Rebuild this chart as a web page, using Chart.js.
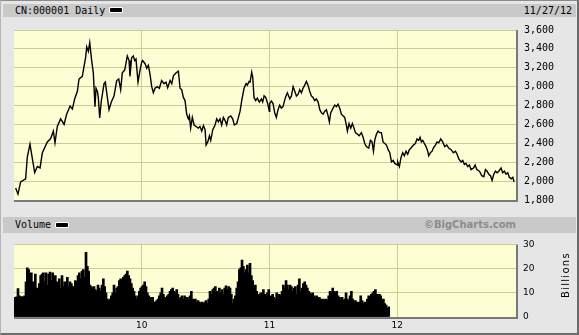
<!DOCTYPE html>
<html>
<head>
<meta charset="utf-8">
<script src="https://cdn.jsdelivr.net/npm/chart.js@4.4.0/dist/chart.umd.min.js"></script>
<style>
  html, body { margin: 0; padding: 0; background: #e6e6e6; }
  #marco { position: relative; width: 579px; height: 335px; background: #e6e6e6; overflow: hidden;
           font-family: "DejaVu Sans Mono", monospace; font-size: 10px; color: #000; }
  .barra { position: absolute; left: 3px; width: 573px; background: #c9c9c9; }
  .texto { position: absolute; white-space: nowrap; }
  .leyenda { position: absolute; width: 12px; height: 4px; background: #000; border-radius: 1px; box-shadow: 0 0 0 1px #fff; }
  canvas { position: absolute; left: 0; }
  #borde { position: absolute; left: 0; top: 0; right: 0; bottom: 0; pointer-events: none;
           border-top: 1px solid #8a8a8a; border-left: 1px solid #b5b5b5;
           border-right: 2px solid #6d6d6d; border-bottom: 2px solid #6d6d6d; }
</style>
</head>
<body>
<div id="marco">
  <div class="barra" style="top:4px;height:13px;"></div>
  <div class="texto" style="left:15px;top:4px;line-height:13px;">CN:000001 Daily</div>
  <div class="leyenda" style="left:110px;top:8px;"></div>
  <div class="texto" style="right:7px;top:4px;line-height:13px;">11/27/12</div>

  <div class="barra" style="top:217px;height:16px;"></div>
  <div class="texto" style="left:15px;top:217px;line-height:16px;">Volume</div>
  <div class="leyenda" style="left:56px;top:223px;"></div>
  <div class="texto" style="right:63px;top:217px;line-height:16px;font-family:'DejaVu Sans',sans-serif;font-weight:bold;color:#8c8c8c;">©BigCharts.com</div>

  <canvas id="graficoPrecio" width="579" height="198" style="top:16px;"></canvas>
  <canvas id="graficoVolumen" width="579" height="103" style="top:232px;"></canvas>

  <div class="texto" style="left:536px;top:269px;width:60px;height:12px;line-height:12px;text-align:center;
       font-family:'DejaVu Sans',sans-serif;font-size:10px;letter-spacing:1.3px;transform:rotate(-90deg);">Billions</div>
  <div id="borde"></div>
</div>

<script>
// Daily close of the index.
// Positions are given as the fraction of the year already gone.
const frac2009 = [0.013, 0.031, 0.052, 0.091, 0.104, 0.125, 0.144, 0.162, 0.183, 0.204,
  0.222, 0.261, 0.287, 0.308, 0.321, 0.339, 0.365, 0.392, 0.412, 0.439,
  0.457, 0.475, 0.496, 0.509, 0.535, 0.548, 0.561, 0.569, 0.582, 0.593,
  0.608, 0.621, 0.634, 0.642, 0.653, 0.660, 0.671, 0.684, 0.705, 0.715,
  0.726, 0.744, 0.762, 0.783, 0.804, 0.820, 0.835, 0.848, 0.867, 0.887,
  0.901, 0.908, 0.921, 0.934, 0.945, 0.955, 0.971, 0.987];
const close2009 = [1927, 1862, 1992, 2024, 2252, 2392, 2236, 2090, 2154, 2140,
  2300, 2415, 2450, 2529, 2405, 2578, 2659, 2600, 2707, 2795,
  2765, 2870, 2951, 3081, 3110, 3212, 3310, 3422, 3373, 3465,
  3276, 3146, 2788, 2983, 2950, 2886, 2668, 2853, 3032, 3048,
  2934, 2756, 2837, 2902, 3065, 3081, 2968, 3146, 3178, 3325,
  3276, 3107, 3309, 3325, 3276, 3292, 3049, 3178];

const frac2010 = [0.000, 0.007, 0.026, 0.039, 0.052, 0.065, 0.078, 0.091, 0.104, 0.122,
  0.138, 0.156, 0.175, 0.190, 0.203, 0.222, 0.235, 0.248, 0.269, 0.287,
  0.300, 0.313, 0.326, 0.339, 0.352, 0.365, 0.373, 0.383, 0.396, 0.410,
  0.425, 0.443, 0.456, 0.470, 0.483, 0.496, 0.504, 0.517, 0.530, 0.540,
  0.556, 0.574, 0.587, 0.600, 0.613, 0.626, 0.639, 0.652, 0.665, 0.678,
  0.697, 0.712, 0.725, 0.744, 0.757, 0.770, 0.783, 0.801, 0.817, 0.827,
  0.840, 0.848, 0.861, 0.869, 0.879, 0.892, 0.905, 0.921, 0.937, 0.947,
  0.958, 0.971, 0.986, 0.999];
const close2010 = [3260, 3276, 3243, 3195, 3227, 3130, 3000, 2935, 2983, 3000,
  2983, 3065, 3032, 3048, 2990, 3065, 3032, 3114, 3146, 3163,
  2983, 2967, 2886, 2853, 2707, 2659, 2691, 2561, 2675, 2594,
  2578, 2561, 2578, 2529, 2588, 2545, 2382, 2415, 2480, 2431,
  2545, 2594, 2659, 2627, 2659, 2594, 2675, 2643, 2594, 2675,
  2691, 2659, 2594, 2610, 2675, 2740, 2854, 2983, 3032, 3016,
  3055, 3048, 3153, 3098, 2886, 2853, 2879, 2837, 2870, 2837,
  2902, 2886, 2821, 2740];

const frac2011 = [0.002, 0.015, 0.028, 0.041, 0.054, 0.067, 0.080, 0.093, 0.106, 0.125,
  0.140, 0.159, 0.172, 0.185, 0.198, 0.211, 0.224, 0.237, 0.250, 0.263,
  0.276, 0.289, 0.302, 0.315, 0.328, 0.341, 0.354, 0.367, 0.381, 0.394,
  0.407, 0.420, 0.433, 0.446, 0.459, 0.469, 0.480, 0.498, 0.511, 0.524,
  0.537, 0.550, 0.563, 0.576, 0.589, 0.602, 0.610, 0.623, 0.636, 0.649,
  0.662, 0.673, 0.689, 0.702, 0.720, 0.733, 0.746, 0.759, 0.777, 0.790,
  0.803, 0.814, 0.824, 0.837, 0.850, 0.863, 0.876, 0.889, 0.903, 0.916,
  0.929, 0.942, 0.955, 0.968, 0.981];
const close2011 = [2821, 2847, 2821, 2724, 2675, 2756, 2805, 2773, 2789, 2886,
  2935, 2870, 2902, 3000, 2951, 2902, 2918, 2967, 2935, 2983,
  3016, 3055, 3016, 2951, 2902, 2886, 2853, 2870, 2837, 2756,
  2724, 2708, 2740, 2756, 2691, 2626, 2724, 2773, 2805, 2789,
  2815, 2773, 2708, 2691, 2675, 2594, 2529, 2610, 2561, 2610,
  2561, 2513, 2496, 2480, 2513, 2464, 2398, 2366, 2350, 2431,
  2415, 2317, 2431, 2496, 2529, 2513, 2513, 2415, 2398, 2382,
  2333, 2301, 2203, 2219, 2187];

const frac2012 = [0.002, 0.004, 0.017, 0.030, 0.043, 0.056, 0.069, 0.082, 0.095, 0.108,
  0.127, 0.142, 0.155, 0.168, 0.179, 0.189, 0.200, 0.213, 0.226, 0.239,
  0.247, 0.260, 0.273, 0.283, 0.299, 0.312, 0.325, 0.341, 0.356, 0.372,
  0.388, 0.403, 0.422, 0.440, 0.456, 0.469, 0.482, 0.500, 0.513, 0.526,
  0.539, 0.552, 0.565, 0.578, 0.597, 0.610, 0.623, 0.644, 0.662, 0.678,
  0.691, 0.704, 0.717, 0.730, 0.743, 0.756, 0.769, 0.782, 0.795, 0.813,
  0.826, 0.839, 0.852, 0.865, 0.878, 0.892, 0.905, 0.915];
const close2012 = [2170, 2203, 2154, 2252, 2301, 2268, 2317, 2284, 2333, 2350,
  2382, 2398, 2447, 2431, 2464, 2415, 2431, 2398, 2366, 2317,
  2268, 2301, 2317, 2350, 2382, 2415, 2405, 2447, 2415, 2366,
  2382, 2350, 2333, 2301, 2317, 2284, 2236, 2203, 2219, 2177,
  2187, 2154, 2170, 2122, 2138, 2170, 2122, 2105, 2057, 2047,
  2122, 2105, 2073, 2057, 2008, 2073, 2105, 2089, 2105, 2138,
  2089, 2105, 2073, 2089, 2040, 2024, 2040, 1992];

// Volume in billions, one sample every ~3.8 days from the start of 2009
// (the picture has no volume after late 2011)
const volumeStart = 2009.0;
const volumeStep = 0.01044;
const volumeBillions = [7.4, 8.1, 8.3, 11.7, 8.7, 8.3, 8.3, 8.3, 8.7, 14.5,
  20.3, 19.6, 16.4, 18.3, 14.5, 11.9, 17.7, 11.9, 8.1, 13.8,
  17.1, 17.7, 18.3, 14.5, 18.3, 13.2, 17.7, 18.6, 15.1, 18.3,
  11.9, 17.1, 14.5, 13.2, 15.8, 11.9, 17.1, 12.6, 14.5, 13.2,
  16.4, 12.6, 14.5, 13.8, 12.6, 12.6, 15.1, 14.5, 17.1, 18.3,
  15.8, 19.0, 19.6, 16.4, 26.7, 20.9, 19.0, 13.2, 12.6, 11.9,
  12.6, 11.3, 10.6, 13.2, 11.9, 10.6, 13.2, 15.8, 12.6, 10.0,
  7.4, 6.8, 7.4, 8.7, 10.0, 13.2, 10.0, 11.9, 12.6, 15.1,
  15.8, 15.1, 16.4, 17.1, 17.7, 19.0, 17.1, 15.8, 13.8, 11.9,
  10.6, 8.7, 7.4, 8.7, 10.6, 11.9, 12.6, 13.2, 14.5, 12.6,
  10.0, 8.7, 7.4, 8.1, 8.1, 6.2, 6.2, 6.8, 7.4, 8.7,
  10.0, 11.9, 9.4, 8.1, 7.4, 8.7, 9.4, 10.6, 11.3, 11.9,
  10.6, 10.0, 11.3, 9.4, 7.4, 8.1, 8.7, 7.4, 8.7, 7.4,
  8.1, 7.4, 8.7, 10.6, 7.4, 6.8, 7.4, 6.2, 6.8, 6.2,
  5.5, 6.2, 5.5,
  6.2, 6.8, 5.5, 7.4, 10.6, 9.4, 11.3, 11.9, 12.6, 10.6,
  9.4, 11.9, 10.0, 11.3, 9.4, 11.9, 12.9, 11.3, 12.6, 11.9,
  9.4, 5.5, 7.4, 8.7, 11.9, 14.5, 19.6, 20.3, 23.5, 20.9,
  18.3, 19.6, 21.5, 18.3, 22.2, 17.1, 15.1, 11.9, 13.2, 10.6,
  8.7, 9.4, 10.0, 9.4, 11.3, 9.4, 8.1, 10.0, 11.3, 8.1,
  8.7, 9.4, 8.1, 7.4, 10.0, 7.4, 9.4, 8.7, 10.6, 13.2,
  11.9, 15.1, 13.2, 11.3, 13.2, 12.6, 10.6, 11.9, 12.6, 9.4,
  13.2, 15.8, 10.6, 11.9, 13.8, 14.5, 13.2, 11.9, 10.6, 10.0,
  9.4, 10.0, 8.7, 8.1, 8.7, 7.4, 8.1, 7.4, 6.8, 7.4,
  6.8, 7.4, 6.8, 8.7, 10.6, 10.0, 11.9, 10.6, 10.0, 10.6,
  8.7, 8.1, 7.4, 8.1, 6.8, 7.4, 10.0, 7.4, 6.8, 8.7,
  10.6, 7.4, 6.2, 6.8, 6.2, 5.5, 6.2, 8.7, 6.8, 5.5,
  6.2, 5.5, 7.4, 8.7, 8.1, 9.4, 10.0, 10.6, 11.3, 9.4,
  8.1, 9.4, 8.7, 6.8, 7.4, 5.5, 4.9, 3.6, 4.2];

// Axis ticks
const yearTicks = [2010, 2011, 2012];
const xMin = 2009.0;
const xMax = 2012.93;
const priceTicks = { min: 1800, max: 3600, step: 200 };
const volumeTicks = { min: 0, max: 30, step: 10 };

// ---------------------------------------------------------------

function juntarAnio(anio, fracciones, cierres) {
  return fracciones.map((f, i) => ({ x: anio + f, y: cierres[i] }));
}

const puntosPrecio = [].concat(
  juntarAnio(2009, frac2009, close2009),
  juntarAnio(2010, frac2010, close2010),
  juntarAnio(2011, frac2011, close2011),
  juntarAnio(2012, frac2012, close2012)
);
const puntosVolumen = volumeBillions.map((v, i) => ({ x: volumeStart + i * volumeStep, y: v }));

// pale yellow dithered plot background
const tejido = document.createElement('canvas');
tejido.width = 2; tejido.height = 2;
const tctx = tejido.getContext('2d');
tctx.fillStyle = '#fcfcc6'; tctx.fillRect(0, 0, 2, 2);
tctx.fillStyle = '#ffffe2'; tctx.fillRect(0, 0, 1, 1); tctx.fillRect(1, 1, 1, 1);
const patronAmarillo = tctx.createPattern(tejido, 'repeat');

const fondoPlot = {
  id: 'fondoPlot',
  beforeDraw(chart) {
    const { ctx, chartArea: a } = chart;
    ctx.save();
    ctx.fillStyle = patronAmarillo;
    ctx.fillRect(a.left, a.top, a.right - a.left, a.bottom - a.top);
    ctx.restore();
  },
  afterDraw(chart) {
    const { ctx, chartArea: a } = chart;
    ctx.save();
    ctx.strokeStyle = '#7a7a7a';
    ctx.lineWidth = 2;
    ctx.beginPath();
    ctx.moveTo(a.left, a.bottom + 1);
    ctx.lineTo(a.right + 1, a.bottom + 1);
    ctx.lineTo(a.right + 1, a.top);
    ctx.stroke();
    ctx.restore();
  }
};

const colorGrilla = '#cccc96';
const fuenteMono = { family: 'DejaVu Sans Mono', size: 10 };
const fuenteSans = { family: 'DejaVu Sans', size: 9 };

function ejeTiempo(conEtiquetas) {
  return {
    type: 'linear',
    min: xMin,
    max: xMax,
    offset: false,
    afterBuildTicks: s => { s.ticks = yearTicks.map(v => ({ value: v })); },
    afterFit: s => { s.height = conEtiquetas ? 18 : 0; },
    grid: { color: colorGrilla, drawTicks: false, offset: false },
    border: { display: false },
    ticks: {
      display: conEtiquetas,
      padding: 3,
      color: '#000',
      font: fuenteSans,
      maxRotation: 0,
      callback: v => String(v).slice(2)
    }
  };
}

new Chart('graficoPrecio', {
  type: 'line',
  data: {
    datasets: [{
      data: puntosPrecio,
      borderColor: '#000',
      borderWidth: 1.4,
      pointRadius: 0,
      tension: 0
    }]
  },
  options: {
    responsive: false,
    animation: false,
    layout: { padding: { left: 14, top: 7, right: 0, bottom: 7 } },
    plugins: { legend: { display: false }, tooltip: { enabled: false } },
    scales: {
      x: ejeTiempo(false),
      y: {
        position: 'right',
        min: priceTicks.min,
        max: priceTicks.max,
        afterFit: s => { s.width = 63; },
        grid: { color: colorGrilla, drawTicks: false },
        border: { display: false },
        ticks: {
          stepSize: priceTicks.step,
          padding: 8,
          color: '#000',
          font: fuenteMono,
          callback: v => String(v).replace(/\B(?=(\d{3})+(?!\d))/g, ',')
        }
      }
    }
  },
  plugins: [fondoPlot]
});

new Chart('graficoVolumen', {
  type: 'bar',
  data: {
    datasets: [{
      data: puntosVolumen,
      backgroundColor: '#000',
      borderWidth: 0,
      barThickness: 2
    }]
  },
  options: {
    responsive: false,
    animation: false,
    layout: { padding: { left: 14, top: 7, right: 0, bottom: 0 } },
    plugins: { legend: { display: false }, tooltip: { enabled: false } },
    scales: {
      x: ejeTiempo(true),
      y: {
        position: 'right',
        min: volumeTicks.min,
        max: volumeTicks.max,
        afterFit: s => { s.width = 63; },
        grid: { color: colorGrilla, drawTicks: false },
        border: { display: false },
        ticks: {
          stepSize: volumeTicks.step,
          padding: 7,
          color: '#000',
          font: fuenteSans
        }
      }
    }
  },
  plugins: [fondoPlot]
});
</script>
</body>
</html>
